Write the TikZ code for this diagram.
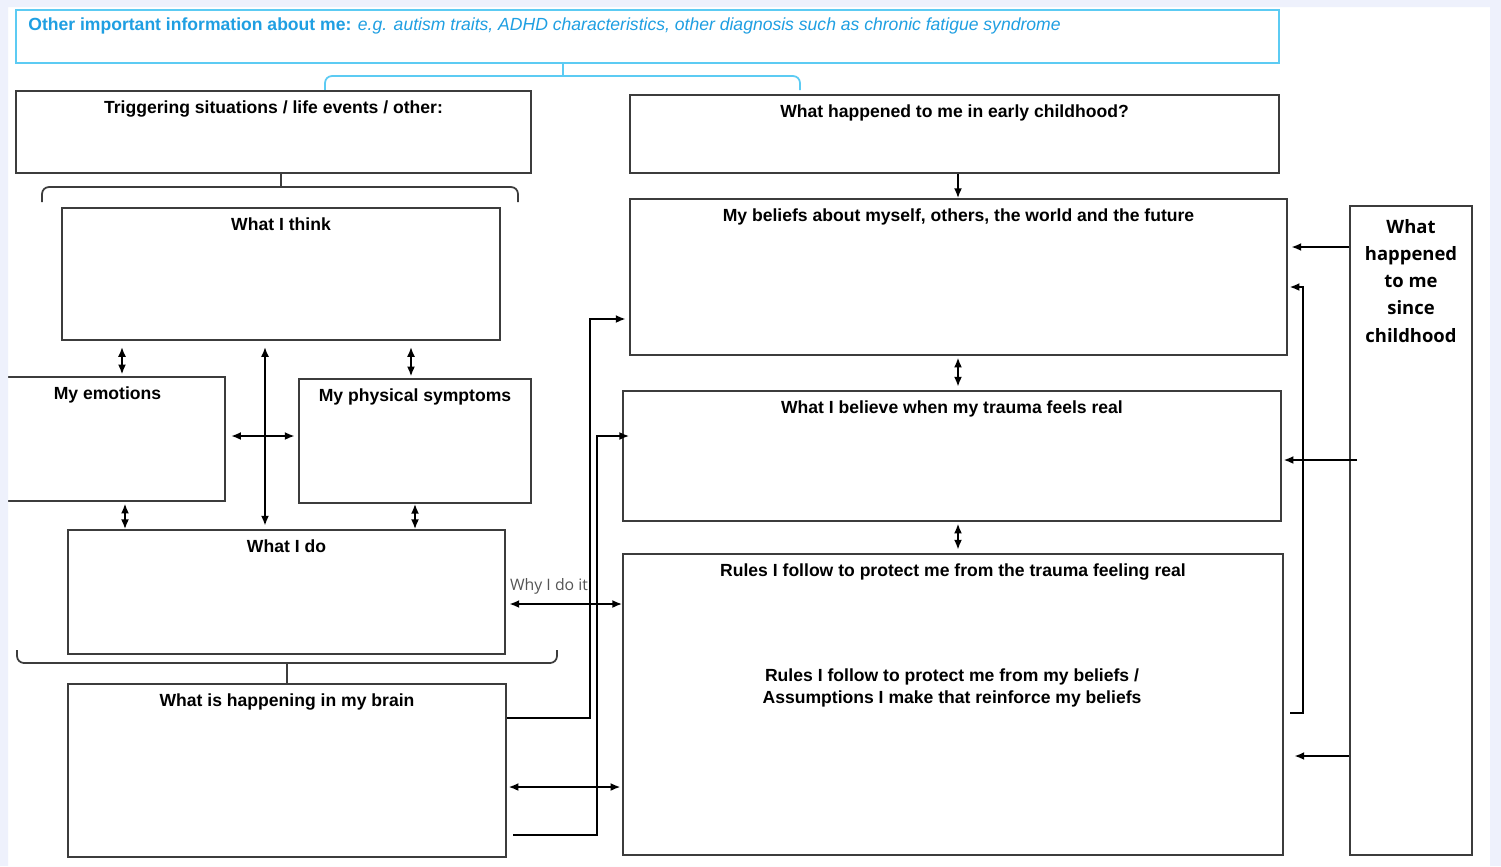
\documentclass[tikz,border=0pt]{standalone}
\usepackage{fontspec}
\setmainfont{Liberation Sans}
\newfontfamily\opensans{Open Sans}
\usetikzlibrary{fit,arrows.meta}

\definecolor{pagebg}{HTML}{EEF1FC}
\definecolor{infoline}{HTML}{5CCBF3}
\definecolor{infotext}{HTML}{1F9FE2}
\definecolor{boxline}{HTML}{3C3C3C}
\definecolor{labelgray}{HTML}{555555}

\tikzset{
  box/.style={draw=boxline, line width=1.1pt, fill=white, inner sep=0pt},
  ttl/.style={anchor=north, inner sep=0pt, font=\bfseries\fontsize{10}{12}\selectfont},
  dbl/.style={{Latex[length=5.5pt,width=4.5pt]}-{Latex[length=5.5pt,width=4.5pt]}, line width=0.9pt},
  one/.style={-{Latex[length=5.5pt,width=4.5pt]}, line width=0.9pt},
  brk/.style={line width=1pt, rounded corners=4pt}
}

\begin{document}
\begin{tikzpicture}[x=0.02cm,y=-0.02cm]
  \useasboundingbox (0,0) rectangle (1501,866);
  \fill[white] (0,0) rectangle (1501,866);

  % helper grid: comment for final drawing
  % \draw[help lines,step=50] (0,0) grid (1500,866);

  % info box on top
  \node[draw=infoline, line width=1.1pt, inner sep=0pt, fit={(16,10) (1279,63)}] (info) {};
  \node[anchor=west, inner sep=0pt, text=infotext, font=\fontsize{10}{12}\selectfont] (infoT) at (28,26)
       {\textbf{Other important information about me:} \textit{e.g. autism traits, ADHD characteristics, other diagnosis such as chronic fatigue syndrome}};
  \draw[brk, infoline] (325,90) -- (325,76) -- (800,76) -- (800,90);
  \draw[line width=1pt, infoline] (info.south -| 563,0) -- (563,76);

  % left column
  \node[box, fit={(16,91) (531,173)}]   (trig)  {};
  \node[box, fit={(62,208) (500,340)}]  (think) {};
  \node[box, fit={(-10,377) (225,501)}] (emo)   {};
  \node[box, fit={(299,379) (531,503)}] (phys)  {};
  \node[box, fit={(68,530) (505,654)}]  (do)    {};
  \node[box, fit={(68,684) (506,857)}]  (brain) {};

  \node[ttl] (trigT)  at ([yshift=-6pt]trig.north)  {Triggering situations / life events / other:};
  \node[ttl] (thinkT) at ([yshift=-6pt]think.north) {What I think};
  \node[ttl] (emoT)   at ([yshift=-6pt]emo.north)   {My emotions};
  \node[ttl] (physT)  at ([yshift=-6pt]phys.north)  {My physical symptoms};
  \node[ttl] (doT)    at ([yshift=-6pt]do.north)    {What I do};
  \node[ttl] (brainT) at ([yshift=-6pt]brain.north) {What is happening in my brain};

  % brackets
  \draw[brk, boxline] (42,202) -- (42,187) -- (518,187) -- (518,202);
  \draw[line width=1pt, boxline] (trig.south -| 281,0) -- (281,187);
  \draw[brk, boxline] (17,650) -- (17,663) -- (557,663) -- (557,650);
  \draw[line width=1pt, boxline] (287,663) -- (brain.north -| 287,0);

  % arrows in the left column
  \draw[dbl, shorten <=3.5pt, shorten >=1pt] (think.south -| 122,0) -- (emo.north -| 122,0);
  \draw[dbl, shorten <=3.5pt, shorten >=1pt] (think.south -| 411,0) -- (phys.north -| 411,0);
  \draw[dbl, shorten <=3.5pt, shorten >=2pt] (think.south -| 265,0) -- (do.north -| 265,0);
  \draw[dbl, shorten <=3pt, shorten >=2pt] (emo.east |- 0,436) -- (phys.west |- 0,436);
  \draw[dbl, shorten <=1pt, shorten >=0pt] (emo.south -| 125,0) -- (do.north -| 125,0);
  \draw[dbl, shorten <=0pt, shorten >=0pt] (phys.south -| 415,0) -- (do.north -| 415,0);

  % right column
  \node[box, fit={(630,95) (1279,173)}]   (early)   {};
  \node[box, fit={(630,199) (1287,355)}]  (beliefs) {};
  \node[box, fit={(623,391) (1281,521)}]  (trauma)  {};
  \node[box, fit={(623,554) (1283,855)}]  (rules)   {};
  \node[box, fit={(1350,206) (1472,855)}] (since)   {};

  \node[ttl] (earlyT)   at ([yshift=-6pt]early.north)   {What happened to me in early childhood?};
  \node[ttl] (beliefsT) at ([yshift=-6pt]beliefs.north) {My beliefs about myself, others, the world and the future};
  \node[ttl] (traumaT)  at ([yshift=-6pt]trauma.north)  {What I believe when my trauma feels real};
  \node[ttl] (rulesT)   at ([yshift=-6pt]rules.north)   {Rules I follow to protect me from the trauma feeling real};
  \node[ttl, anchor=center, align=center, font=\bfseries\fontsize{10}{12.5}\selectfont] (rulesB) at (952,688)
       {Rules I follow to protect me from my beliefs /\\Assumptions I make that reinforce my beliefs};
  \node[anchor=north, inner sep=0pt, align=center, font=\opensans\bfseries\fontsize{10.5}{15.4}\selectfont] (sinceT)
       at ([yshift=-8.2pt]since.north) {What\\happened\\to me\\since\\childhood};

  \draw[one, shorten >=0pt]  (early.south -| 958,0) -- (beliefs.north -| 958,0);
  \draw[dbl, shorten <=1pt, shorten >=2pt] (beliefs.south -| 958,0) -- (trauma.north -| 958,0);
  \draw[dbl, shorten <=1pt, shorten >=2pt] (trauma.south -| 958,0) -- (rules.north -| 958,0);

  % arrows from what happened since childhood
  \coordinate (sinceIn) at (1357,460);
  \coordinate (fbStart) at (1290,713);
  \draw[one, shorten >=2pt] (since.west |- 0,247) -- (beliefs.east |- 0,247);
  \draw[one, shorten >=1pt] (sinceIn) -- (trauma.east |- sinceIn);
  \draw[one, shorten >=6pt] (since.west |- 0,756) -- (rules.east |- 0,756);
  \draw[one, line width=0.9pt] (fbStart) -- (1303,713) |- ([xshift=1pt]beliefs.east |- 0,287);

  % links between the two columns
  \node[anchor=base, inner sep=0pt, text=labelgray, font=\opensans\fontsize{9}{11}\selectfont] (why) at (549,590) {Why I do it};
  \draw[dbl, shorten <=2pt, shorten >=0pt] (do.east |- 0,604) -- (rules.west |- 0,604);
  \draw[dbl, shorten <=1pt, shorten >=1pt] (brain.east |- 0,787) -- (rules.west |- 0,787);
  \draw[one, shorten >=2pt] (brain.east |- 0,718) -- (590,718) |- (beliefs.west |- 0,319);
  \coordinate (brainOut) at (513,835);
  \draw[one, shorten >=-4pt] (brainOut) -- (597,835) |- (trauma.west |- 0,436);

  % page frame
  \fill[pagebg, even odd rule] (0,0) rectangle (1501,866) (8,7) rectangle (1490,866);
\end{tikzpicture}
\end{document}
